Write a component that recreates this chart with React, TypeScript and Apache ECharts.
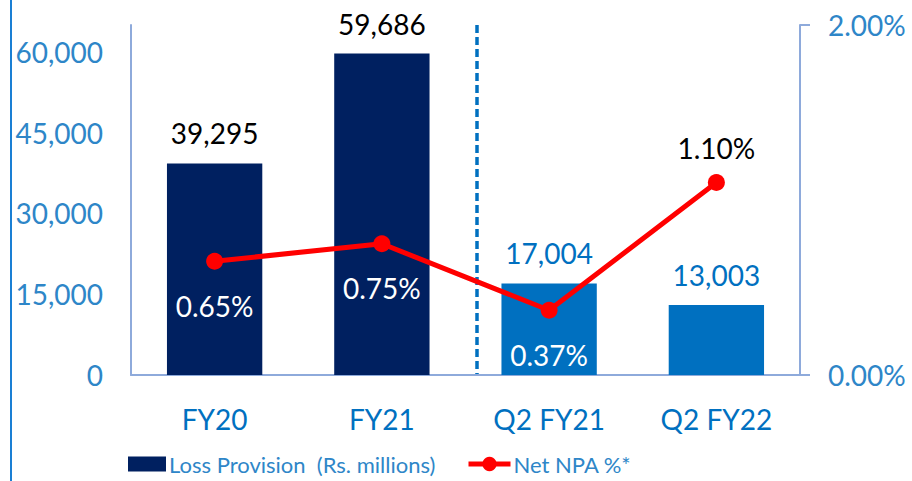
import React, { useEffect, useRef } from "react";
import * as echarts from "echarts";

const categories = ["FY20", "FY21", "Q2 FY21", "Q2 FY22"];
const lossProvision = [39295, 59686, 17004, 13003];
const netNpa = [0.65, 0.75, 0.37, 1.1];
const leftTicks = [0, 15000, 30000, 45000, 60000];
const rightTicks = [0, 2];

const FONT = "Lato";
const AXIS_BLUE = "#2E86C8";
const NAVY = "#002060";
const BLUE = "#0070C0";
const AXIS_LINE = "#8EAADB";
const RED = "#FF0000";
const BAR_NAME = "Loss Provision  (Rs. millions)";
const LINE_NAME = "Net NPA %*";

export default function App() {
  const ref = useRef<HTMLDivElement>(null);
  useEffect(() => {
    if (!ref.current) return;
    const chart = echarts.init(ref.current, null, { renderer: "svg" });
    const barColors = [NAVY, NAVY, BLUE, BLUE];
    const barLabelColors = ["#000", "#000", BLUE, BLUE];
    const lineLabelColors = ["#fff", "#fff", "#fff", "#000"];
    const lineLabelPos = ["bottom", "bottom", "bottom", "top"];
    const lineLabelDist = [22, 22, 22, 12];
    chart.setOption({
      animation: false,
      textStyle: { fontFamily: FONT },
      grid: { left: 131, right: 112, top: 25, bottom: 106, containLabel: false },
      legend: [
        {
          left: 128,
          top: 453,
          padding: 0,
          itemGap: 0,
          itemWidth: 38,
          itemHeight: 15,
          textStyle: { color: AXIS_BLUE, fontSize: 22, fontFamily: FONT, padding: [0, 0, 0, -2] },
          data: [{ name: BAR_NAME, icon: "rect", itemStyle: { color: NAVY } }],
        },
        {
          left: 466,
          top: 453,
          padding: 0,
          itemGap: 0,
          itemWidth: 42,
          itemHeight: 18,
          textStyle: { color: AXIS_BLUE, fontSize: 22, fontFamily: FONT, padding: [0, 0, 0, -2] },
          data: [{ name: LINE_NAME, lineStyle: { width: 5, color: RED }, itemStyle: { color: RED } }],
        },
      ],
      xAxis: {
        type: "category",
        data: categories,
        axisLine: { lineStyle: { color: AXIS_LINE, width: 2 } },
        axisTick: { show: false },
        axisLabel: { color: BLUE, fontSize: 28, margin: 30, fontFamily: FONT },
      },
      yAxis: [
        {
          type: "value",
          min: leftTicks[0],
          max: 65000,
          interval: leftTicks[1] - leftTicks[0],
          splitLine: { show: false },
          axisLine: { show: true, lineStyle: { color: AXIS_LINE, width: 2 } },
          axisTick: { show: false },
          axisLabel: {
            color: AXIS_BLUE,
            fontSize: 28,
            margin: 28,
            fontFamily: FONT,
            showMaxLabel: false,
            formatter: (v: number) => (leftTicks.includes(v) ? v.toLocaleString("en-US") : ""),
          },
        },
        {
          type: "value",
          min: rightTicks[0],
          max: rightTicks[1],
          interval: rightTicks[1] - rightTicks[0],
          splitLine: { show: false },
          axisLine: { show: true, lineStyle: { color: AXIS_LINE, width: 2 } },
          axisTick: { show: true, length: 10, lineStyle: { color: AXIS_LINE, width: 2 } },
          axisLabel: {
            color: AXIS_BLUE,
            fontSize: 28,
            margin: 28,
            fontFamily: FONT,
            formatter: (v: number) => v.toFixed(2) + "%",
          },
        },
      ],
      series: [
        {
          name: BAR_NAME,
          type: "bar",
          yAxisIndex: 0,
          barWidth: "57%",
          itemStyle: { color: NAVY },
          data: lossProvision.map((v, i) => ({
            value: v,
            itemStyle: { color: barColors[i] },
            label: {
              show: true,
              position: "top",
              distance: 16,
              color: barLabelColors[i],
              fontSize: 28,
              fontFamily: FONT,
              formatter: (p: any) => Number(p.value).toLocaleString("en-US"),
            },
          })),
        },
        {
          name: LINE_NAME,
          type: "line",
          yAxisIndex: 1,
          symbol: "circle",
          symbolSize: 17,
          itemStyle: { color: RED },
          lineStyle: { color: RED, width: 5 },
          data: netNpa.map((v, i) => ({
            value: v,
            label: {
              show: true,
              position: lineLabelPos[i],
              distance: lineLabelDist[i],
              color: lineLabelColors[i],
              fontSize: 28,
              fontFamily: FONT,
              formatter: (p: any) => Number(p.value).toFixed(2) + "%",
            },
          })),
        },
      ],
      graphic: [
        {
          type: "line",
          shape: { x1: 11, y1: 0, x2: 11, y2: 481 },
          style: { stroke: "#1A7FD4", lineWidth: 2 },
        },
        {
          type: "line",
          shape: { x1: 477, y1: 25, x2: 477, y2: 375 },
          style: { stroke: BLUE, lineWidth: 3.5, lineDash: [8, 4] },
        },
        {
          type: "line",
          shape: { x1: 800, y1: 375, x2: 810, y2: 375 },
          style: { stroke: AXIS_LINE, lineWidth: 2 },
        },
      ],
    });
    return () => chart.dispose();
  }, []);
  return <div ref={ref} style={{ width: 912, height: 481, position: "absolute", left: 0, top: 0 }} />;
}
